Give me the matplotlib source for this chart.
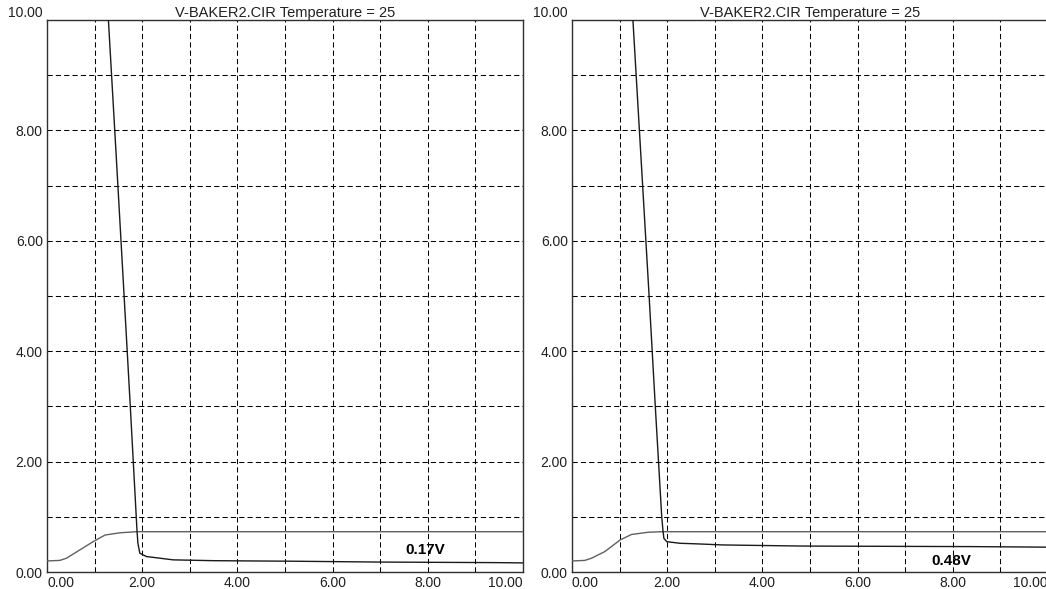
import matplotlib
matplotlib.use("Agg")
import matplotlib.pyplot as plt
from matplotlib.ticker import MultipleLocator

plt.rcParams['font.family'] = ['Liberation Sans', 'DejaVu Sans']

title_text = "V-BAKER2.CIR Temperature = 25"
tick_values = [0, 2, 4, 6, 8, 10]
tick_labels = ["0.00", "2.00", "4.00", "6.00", "8.00", "10.00"]

left_fall_x = [1.29, 1.45, 1.62, 1.75, 1.875, 1.89, 1.91, 1.95, 2.09, 2.37, 2.65, 3.5, 5.2, 7.0, 9.4, 10.0]
left_fall_y = [10.0, 7.6, 5.0, 3.0, 1.0, 0.76, 0.52, 0.34, 0.28, 0.25, 0.22, 0.205, 0.195, 0.18, 0.17, 0.165]
left_rise_x = [0.0, 0.27, 0.41, 0.69, 0.97, 1.22, 1.53, 1.88, 10.0]
left_rise_y = [0.20, 0.21, 0.25, 0.40, 0.55, 0.67, 0.71, 0.73, 0.73]

right_fall_x = [1.28, 1.45, 1.62, 1.75, 1.885, 1.91, 1.93, 1.99, 2.27, 2.62, 3.17, 4.85, 8.4, 10.0]
right_fall_y = [10.0, 7.5, 5.0, 3.0, 1.0, 0.76, 0.61, 0.55, 0.52, 0.51, 0.49, 0.47, 0.46, 0.45]
right_rise_x = [0.0, 0.27, 0.41, 0.69, 1.01, 1.25, 1.6, 1.88, 10.0]
right_rise_y = [0.20, 0.21, 0.25, 0.37, 0.58, 0.68, 0.72, 0.73, 0.73]

left_label = ("0.17V", 7.94, 0.39)
right_label = ("0.48V", 7.97, 0.20)

W, H = 1046, 589
fig = plt.figure(figsize=(W / 100, H / 100), dpi=100)
fig.patch.set_facecolor('white')

def make_axes(x0, rise_x, rise_y, fall_x, fall_y, label):
    ax = fig.add_axes([x0 / W, (H - 572) / H, 476 / W, 552 / H])
    ax.set_xlim(0, 10)
    ax.set_ylim(0, 10)
    ax.xaxis.set_major_locator(MultipleLocator(2))
    ax.xaxis.set_minor_locator(MultipleLocator(1))
    ax.yaxis.set_major_locator(MultipleLocator(2))
    ax.yaxis.set_minor_locator(MultipleLocator(1))
    ax.set_xticks(tick_values)
    ax.set_xticklabels(tick_labels)
    ax.set_yticks(tick_values)
    ax.set_yticklabels(tick_labels)
    ax.tick_params(which='both', length=0, labelsize=10, colors='#202020')
    ax.tick_params(axis='x', pad=3)
    ax.tick_params(axis='y', pad=3)
    xl = ax.get_xticklabels()
    xl[0].set_horizontalalignment('left')
    xl[-1].set_horizontalalignment('right')
    yl = ax.get_yticklabels()
    yl[-1].set_verticalalignment('bottom')
    ax.grid(which='both', color='black', linewidth=0.75, linestyle=(0, (5, 3)))
    for s in ax.spines.values():
        s.set_color('#303030')
        s.set_linewidth(1.0)
    ax.plot(rise_x, rise_y, color='#606060', linewidth=1.0, zorder=3)
    ax.plot(fall_x, fall_y, color='#1a1a1a', linewidth=1.0, zorder=3)
    ax.text(label[1], label[2], label[0], ha='center', va='center',
            fontsize=11, fontweight='bold', color='black', zorder=4)
    ax.set_title(title_text, fontsize=10.5, pad=2, color='#202020')
    return ax

make_axes(47, left_rise_x, left_rise_y, left_fall_x, left_fall_y, left_label)
make_axes(572, right_rise_x, right_rise_y, right_fall_x, right_fall_y, right_label)

fig.savefig("out.png", dpi=100, facecolor='white')
